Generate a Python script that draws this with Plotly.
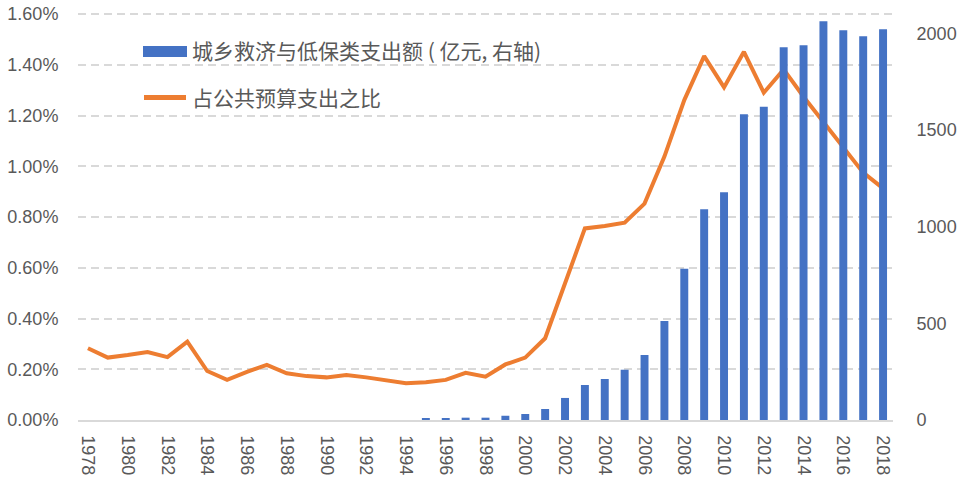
import plotly.graph_objects as go

years = list(range(1978, 2019))
tick_labels = [str(y) for y in years]

# 城乡救济与低保类支出额 (亿元, 右轴)
relief_spending = [None] * 17 + [
    7, 7, 12, 12, 22, 31, 57, 114, 181, 212,
    260, 336, 512, 782, 1090, 1178, 1581, 1620, 1928, 1938,
    2062, 2015, 1985, 2021,
]

# 占公共预算支出之比 (%)
share_of_budget = [
    0.283, 0.246, 0.256, 0.268, 0.248, 0.309, 0.193, 0.158, 0.190, 0.217,
    0.184, 0.173, 0.168, 0.177, 0.168, 0.158, 0.145, 0.149, 0.158, 0.186,
    0.171, 0.219, 0.246, 0.322, 0.539, 0.755, 0.765, 0.778, 0.853, 1.038,
    1.261, 1.434, 1.311, 1.451, 1.290, 1.382, 1.274, 1.176, 1.077, 0.975,
    0.913,
]

left_ticks = [0.0, 0.2, 0.4, 0.6, 0.8, 1.0, 1.2, 1.4, 1.6]
right_ticks = [0, 500, 1000, 1500, 2000]

bar_name = "城乡救济与低保类支出额 ( 亿元, 右轴)"
line_name = "占公共预算支出之比"

FONT = "Liberation Sans, Noto Sans CJK SC, sans-serif"
CJK_FONT = "Noto Sans CJK SC, sans-serif"
GREY = "#595959"
BLUE = "#4472C4"
ORANGE = "#ED7D31"

fig = go.Figure()
fig.add_trace(go.Bar(
    x=tick_labels, y=relief_spending, yaxis="y2", name=bar_name,
    marker=dict(color=BLUE, line=dict(width=0)), showlegend=False,
))
fig.add_trace(go.Scatter(
    x=tick_labels, y=share_of_budget, yaxis="y", name=line_name, mode="lines",
    line=dict(color=ORANGE, width=4), showlegend=False,
))

# legend drawn in paper coordinates (plot area: x 78..893, y 11..420 px)
def px_x(v):
    return (v - 78) / 815.0

def px_y(v):
    return (420 - v) / 409.0

shapes = [
    dict(type="rect", xref="paper", yref="paper",
         x0=px_x(143), x1=px_x(187), y0=px_y(57), y1=px_y(46),
         fillcolor=BLUE, line=dict(width=0), layer="above"),
    dict(type="line", xref="paper", yref="paper",
         x0=px_x(144), x1=px_x(186), y0=px_y(97.5), y1=px_y(97.5),
         line=dict(color=ORANGE, width=5), layer="above"),
]
annotations = [
    dict(text=bar_name, xref="paper", yref="paper", x=px_x(190), y=px_y(50),
         xanchor="left", yanchor="middle", showarrow=False,
         font=dict(family=CJK_FONT, size=21, color=GREY)),
    dict(text=line_name, xref="paper", yref="paper", x=px_x(190), y=px_y(97),
         xanchor="left", yanchor="middle", showarrow=False,
         font=dict(family=CJK_FONT, size=21, color=GREY)),
]

fig.update_layout(
    width=968, height=482,
    margin=dict(l=78, r=75, t=11, b=62),
    paper_bgcolor="white", plot_bgcolor="white",
    font=dict(family=FONT, size=18, color=GREY),
    bargap=0.6,
    showlegend=False,
    shapes=shapes,
    annotations=annotations,
    xaxis=dict(
        type="category", tickangle=90, showgrid=False, automargin=False,
        tickmode="array", tickvals=tick_labels[::2], ticktext=tick_labels[::2],
        showline=True, linecolor="#d9d9d9", linewidth=1.5,
        ticks="outside", ticklen=10, tickcolor="rgba(0,0,0,0)",
        tickfont=dict(size=18, color=GREY),
    ),
    yaxis=dict(
        range=[0, 1.612], tickmode="array", tickvals=left_ticks,
        ticktext=[f"{v:.2f}%" for v in left_ticks],
        showgrid=True, gridcolor="#d9d9d9", griddash="8px,5px", gridwidth=2,
        zeroline=False, automargin=False, ticklabeloverflow="allow",
        ticks="outside", ticklen=15, tickcolor="rgba(0,0,0,0)",
        tickfont=dict(size=18, color=GREY),
    ),
    yaxis2=dict(
        overlaying="y", side="right", range=[0, 2115],
        tickmode="array", tickvals=right_ticks,
        showgrid=False, zeroline=False, automargin=False,
        ticks="outside", ticklen=19, tickcolor="rgba(0,0,0,0)",
        tickfont=dict(size=18, color=GREY),
    ),
)

# remove the browser's default 8px body margin so the figure sits at (0, 0)
fig.write_html(
    "out.html",
    config={"displayModeBar": False},
    post_script="document.body.style.margin='0';",
)
